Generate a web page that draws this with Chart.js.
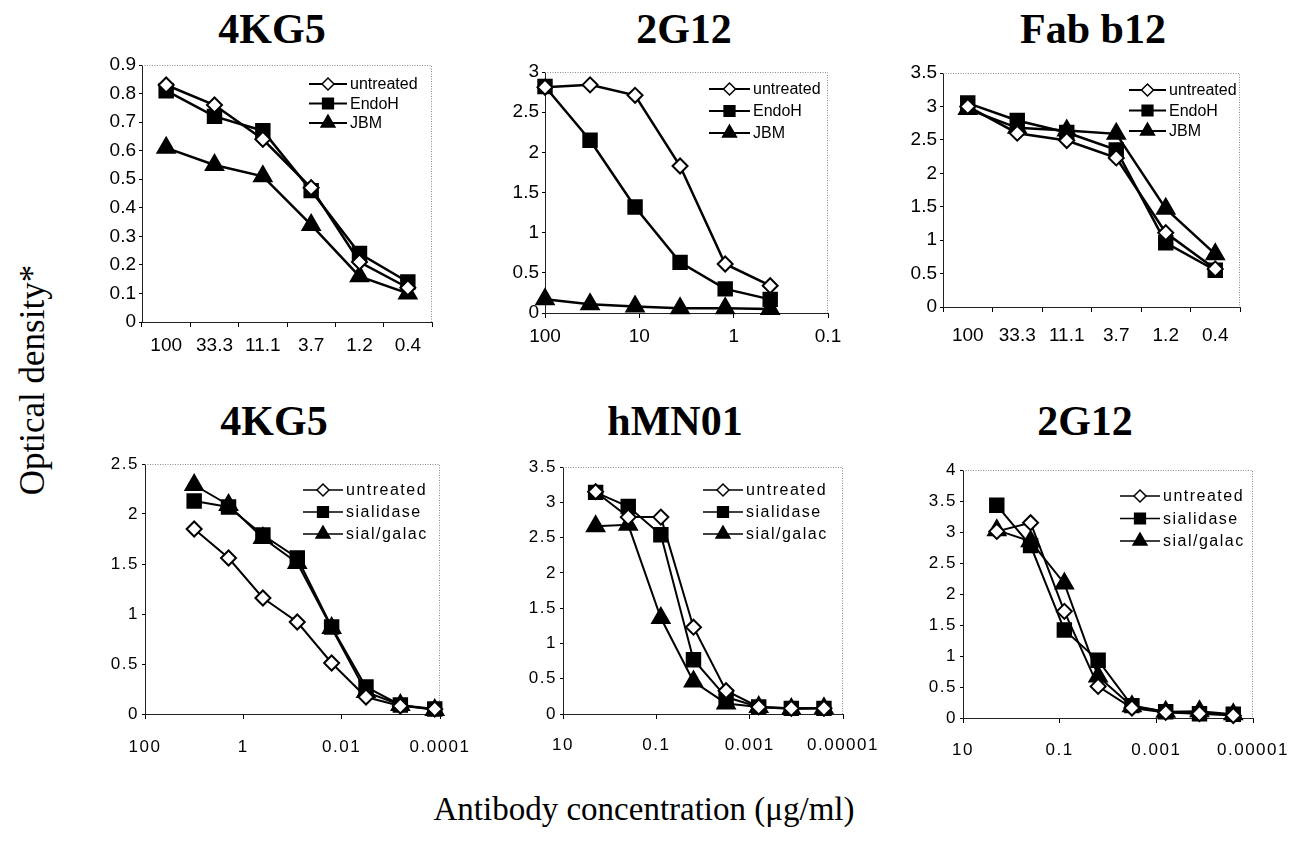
<!DOCTYPE html>
<html lang="en">
<head>
<meta charset="UTF-8">
<title>Antibody binding to treated gp120</title>
<script src="https://cdn.jsdelivr.net/npm/chart.js@4.4.0/dist/chart.umd.min.js"></script>
<style>
  body { margin: 0; background: #fff; width: 1291px; height: 843px; position: relative; overflow: hidden; }
  canvas { position: absolute; }
  .ttl { position: absolute; font: bold 42px "Liberation Serif", "Times New Roman", serif; line-height: 1; transform: translateX(-50%); white-space: nowrap; }
  .axt { position: absolute; font: 33px "Liberation Serif", "Times New Roman", serif; line-height: 1; white-space: nowrap; }
</style>
</head>
<body>
<div class="ttl" style="left:272px; top:8px">4KG5</div>
<div class="ttl" style="left:684px; top:8px">2G12</div>
<div class="ttl" style="left:1093px; top:8px">Fab b12</div>
<div class="ttl" style="left:274px; top:400px">4KG5</div>
<div class="ttl" style="left:675px; top:400px">hMN01</div>
<div class="ttl" style="left:1085px; top:400px">2G12</div>
<div class="axt" style="left:32px; top:380px; font-size:35px; transform:translate(-50%,-50%) rotate(-90deg)">Optical density*</div>
<div class="axt" style="left:644px; top:793px; transform:translateX(-50%)">Antibody concentration (μg/ml)</div>

<canvas id="c1"></canvas>
<canvas id="c2"></canvas>
<canvas id="c3"></canvas>
<canvas id="c4"></canvas>
<canvas id="c5"></canvas>
<canvas id="c6"></canvas>

<script>
// concentrations (ug/ml) and axis tick labels
const topDoses = ['100', '33.3', '11.1', '3.7', '1.2', '0.4'];
const topDoseValues = [100, 33.3, 11.1, 3.7, 1.23, 0.41];
const kgBottomDoses = [10, 2, 0.4, 0.08, 0.016, 0.0032, 0.00064, 0.000128];
const fiveFoldDoses = [2, 0.4, 0.08, 0.016, 0.0032, 0.00064, 0.000128, 0.0000256];
const ticks2G12 = [100, 10, 1, 0.1];
const tickLabels2G12 = ['100', '10', '1', '0.1'];
const ticksKgBottom = [100, 1, 0.01, 0.0001];
const tickLabelsKgBottom = ['100', '1', '0.01', '0.0001'];
const ticksFiveFold = [10, 0.1, 0.001, 0.00001];
const tickLabelsFiveFold = ['10', '0.1', '0.001', '0.00001'];

const topNames = ['untreated', 'EndoH', 'JBM'];
const bottomNames = ['untreated', 'sialidase', 'sial/galac'];

// top row
const kgUntreated = [0.83, 0.76, 0.64, 0.47, 0.21, 0.12];
const kgEndoH = [0.81, 0.72, 0.67, 0.46, 0.24, 0.14];
const kgJbm = [0.61, 0.55, 0.51, 0.34, 0.16, 0.10];

const g12Untreated = [2.81, 2.84, 2.71, 1.83, 0.61, 0.34];
const g12EndoH = [2.82, 2.15, 1.32, 0.63, 0.30, 0.17];
const g12Jbm = [0.17, 0.11, 0.08, 0.06, 0.06, 0.05];

const fabUntreated = [3.00, 2.60, 2.49, 2.23, 1.11, 0.57];
const fabEndoH = [3.05, 2.79, 2.61, 2.35, 0.96, 0.55];
const fabJbm = [2.96, 2.68, 2.64, 2.59, 1.47, 0.79];

// bottom row
const kgbUntreated = [1.85, 1.56, 1.16, 0.92, 0.51, 0.17, 0.08, 0.05];
const kgbSialidase = [2.13, 2.07, 1.79, 1.56, 0.87, 0.27, 0.09, 0.05];
const kgbSialGalac = [2.29, 2.09, 1.76, 1.51, 0.86, 0.22, 0.09, 0.04];

const hmnUntreated = [3.15, 2.79, 2.79, 1.23, 0.33, 0.10, 0.08, 0.08];
const hmnSialidase = [3.14, 2.94, 2.54, 0.77, 0.24, 0.10, 0.08, 0.08];
const hmnSialGalac = [2.66, 2.68, 1.36, 0.46, 0.15, 0.10, 0.07, 0.08];

const g12bUntreated = [3.01, 3.15, 1.72, 0.51, 0.16, 0.09, 0.07, 0.04];
const g12bSialidase = [3.43, 2.78, 1.42, 0.93, 0.20, 0.10, 0.07, 0.06];
const g12bSialGalac = [3.03, 2.85, 2.17, 0.67, 0.19, 0.10, 0.11, 0.06];

// marker look for untreated / enzyme 1 / enzyme 2
const markers = [
    { pointStyle: 'rectRot', bg: '#fff', r: 7.5 },
    { pointStyle: 'rect', bg: '#000', r: 9.5 },
    { pointStyle: 'triangle', bg: '#000', r: 10 }
];

const panels = [
    { id: 'c1', box: [142, 65, 432, 322], kind: 'cat', labels: topDoses,
      series: [kgUntreated, kgEndoH, kgJbm], names: topNames, yMax: 0.9, yStep: 0.1,
      legend: { dx: 123, dy: 19, gap: 19.5, len: 38 }, xPad: 7 },
    { id: 'c2', box: [545, 72, 828, 313], kind: 'log', xs: topDoseValues, min: 0.1, max: 100,
      ticks: ticks2G12, tickLabels: tickLabels2G12,
      series: [g12Untreated, g12EndoH, g12Jbm], names: topNames, yMax: 3, yStep: 0.5,
      legend: { dx: 119, dy: 17, gap: 22, len: 41 }, xPad: 7 },
    { id: 'c3', box: [943, 73, 1240, 307], kind: 'cat', labels: topDoses,
      series: [fabUntreated, fabEndoH, fabJbm], names: topNames, yMax: 3.5, yStep: 0.5,
      legend: { dx: 111, dy: 17, gap: 20.5, len: 37 }, xPad: 12 },
    { id: 'c4', box: [145, 464, 440, 714], kind: 'log', xs: kgBottomDoses, min: 0.0001, max: 100,
      ticks: ticksKgBottom, tickLabels: tickLabelsKgBottom,
      series: [kgbUntreated, kgbSialidase, kgbSialGalac], names: bottomNames, yMax: 2.5, yStep: 0.5,
      legend: { dx: 137, dy: 26, gap: 22, len: 40 }, xPad: 18, small: true },
    { id: 'c5', box: [563, 467, 843, 714], kind: 'log', xs: fiveFoldDoses, min: 0.00001, max: 10,
      ticks: ticksFiveFold, tickLabels: tickLabelsFiveFold,
      series: [hmnUntreated, hmnSialidase, hmnSialGalac], names: bottomNames, yMax: 3.5, yStep: 0.5,
      legend: { dx: 140, dy: 23, gap: 22, len: 40 }, xPad: 16, small: true },
    { id: 'c6', box: [963, 470, 1253, 718], kind: 'log', xs: fiveFoldDoses, min: 0.00001, max: 10,
      ticks: ticksFiveFold, tickLabels: tickLabelsFiveFold,
      series: [g12bUntreated, g12bSialidase, g12bSialGalac], names: bottomNames, yMax: 4, yStep: 0.5,
      legend: { dx: 133, dy: 26, gap: 22.5, len: 40 }, xPad: 17, small: true }
];

const Y_W = 70, X_H = 50, PAD_T = 12, PAD_R = 45;

// dotted frame + inline legend
const framePlugin = {
    id: 'frame',
    beforeDraw(chart) {
        chart.ctx.letterSpacing = chart.options.plugins.frame.spacing;
    },
    beforeDatasetsDraw(chart) {
        const { ctx, chartArea: a } = chart;
        ctx.save();
        ctx.strokeStyle = '#888';
        ctx.lineWidth = 1;
        ctx.setLineDash([1, 1.5]);
        ctx.beginPath();
        ctx.moveTo(a.left, a.top + 0.5);
        ctx.lineTo(a.right - 0.5, a.top + 0.5);
        ctx.lineTo(a.right - 0.5, a.bottom);
        ctx.stroke();
        ctx.restore();
    },
    afterDatasetsDraw(chart) {
        const p = chart.options.plugins.frame.panel;
        const { ctx, chartArea: a } = chart;
        ctx.save();
        ctx.letterSpacing = chart.options.plugins.frame.spacing;
        chart.data.datasets.forEach((ds, i) => {
            const x0 = a.right - p.legend.dx;
            const y = a.top + p.legend.dy + i * p.legend.gap;
            ctx.strokeStyle = '#000';
            ctx.lineWidth = p.small ? 1.6 : 2;
            ctx.beginPath();
            ctx.moveTo(x0, y);
            ctx.lineTo(x0 + p.legend.len, y);
            ctx.stroke();
            ctx.fillStyle = ds.pointBackgroundColor;
            ctx.lineWidth = 1.5;
            Chart.helpers.drawPoint(ctx, { pointStyle: ds.pointStyle, rotation: 0, radius: ds.pointRadius * 0.8, borderWidth: 1.5 },
                x0 + p.legend.len / 2, y);
            ctx.fillStyle = '#000';
            ctx.font = '16px "Liberation Sans", Arial, sans-serif';
            ctx.textBaseline = 'middle';
            ctx.textAlign = 'left';
            ctx.fillText(p.names[i], x0 + p.legend.len + 3, y + 1);
        });
        ctx.restore();
    }
};

function fmtY(v) {
    return String(Math.round(v * 100) / 100);
}

panels.forEach(p => {
    const [L, T, R, B] = p.box;
    const cv = document.getElementById(p.id);
    cv.width = R - L + Y_W + PAD_R;
    cv.height = B - T + PAD_T + X_H;
    cv.style.left = (L - Y_W) + 'px';
    cv.style.top = (T - PAD_T) + 'px';

    const tickFont = { family: '"Liberation Sans", Arial, sans-serif', size: p.small ? 17 : 19 };
    const lineW = p.small ? 2 : 2.5;

    const datasets = p.series.map((vals, i) => ({
        label: p.names[i],
        data: p.kind === 'cat' ? vals : vals.map((v, k) => ({ x: p.xs[k], y: v })),
        borderColor: '#000',
        borderWidth: lineW,
        pointStyle: markers[i].pointStyle,
        pointRadius: markers[i].r,
        pointBackgroundColor: markers[i].bg,
        pointBorderColor: '#000',
        pointBorderWidth: 2,
        tension: 0,
        clip: false
    }));

    let xScale;
    if (p.kind === 'cat') {
        xScale = {
            type: 'category',
            offset: true,
            grid: { offset: true, drawOnChartArea: false, tickLength: 5, color: '#000' },
            border: { color: '#222' },
            ticks: { font: tickFont, color: '#000', padding: p.xPad, maxRotation: 0, autoSkip: false }
        };
    } else {
        xScale = {
            type: 'logarithmic',
            reverse: true,
            min: p.min,
            max: p.max,
            grid: { drawOnChartArea: false, tickLength: 5, color: '#000' },
            border: { color: '#222' },
            afterBuildTicks: s => { s.ticks = p.ticks.map(v => ({ value: v })); },
            ticks: { font: tickFont, color: '#000', padding: p.xPad, maxRotation: 0, autoSkip: false,
                     callback: (v, i) => p.tickLabels[i] }
        };
    }
    xScale.afterFit = s => { s.height = X_H; s.paddingLeft = 0; s.paddingRight = 0; };

    new Chart(cv, {
        type: 'line',
        data: { labels: p.kind === 'cat' ? p.labels : undefined, datasets },
        options: {
            responsive: false,
            animation: false,
            events: [],
            layout: { autoPadding: false, padding: { top: PAD_T, right: PAD_R, left: 0, bottom: 0 } },
            plugins: {
                legend: { display: false },
                tooltip: { enabled: false },
                frame: { panel: p, spacing: p.small ? '1.5px' : '0px' }
            },
            scales: {
                x: xScale,
                y: {
                    min: 0,
                    max: p.yMax,
                    grid: { drawOnChartArea: false, tickLength: 3, color: '#000' },
                    border: { color: '#222' },
                    ticks: { stepSize: p.yStep, font: tickFont, color: '#000', padding: 3, callback: v => fmtY(v) },
                    afterFit: s => { s.width = Y_W; s.paddingTop = 0; s.paddingBottom = 0; }
                }
            }
        },
        plugins: [framePlugin]
    });
});
</script>
</body>
</html>
